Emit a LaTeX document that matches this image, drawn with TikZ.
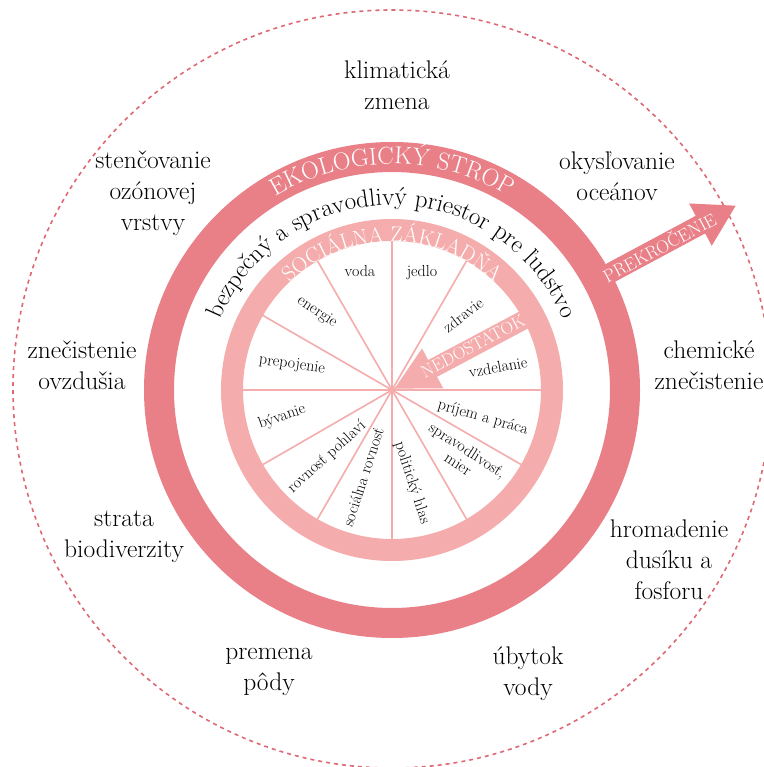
\documentclass[tikz,border=0pt]{standalone}
\usepackage{fontspec}
\usetikzlibrary{decorations.text}
\definecolor{eco}{RGB}{233,128,136}
\definecolor{soc}{RGB}{244,172,172}
\definecolor{dashred}{RGB}{222,104,116}
\tikzset{
  outerlbl/.style={align=center, font=\fontsize{25.5}{31}\selectfont, text=black, inner sep=0pt},
  pielbl/.style={align=center, font=\fontsize{16}{17}\selectfont, text=black, inner sep=0pt},
  spoke/.style={draw=soc, line width=1.6pt},
  arrowlbl/.style={text=white, inner sep=0pt},
}
\begin{document}
\begin{tikzpicture}[x=1pt,y=1pt]
\useasboundingbox (-392,-377) rectangle (371,390);
\fill[white] (-392,-377) rectangle (371,390);
\coordinate (c) at (0,0);
% outer dashed boundary
\draw[draw=dashred, line width=1.6pt, dash pattern=on 4pt off 4pt] (0,1) circle (379);
% ecological ceiling ring
\fill[eco, even odd rule] (c) circle (248) circle (218);
% overshoot arrow
\begin{scope}[rotate=28.2]
\fill[eco] (228,-10) -- (350,-10) -- (350,-24) -- (390,0) -- (350,24) -- (350,10) -- (228,10) -- cycle;
\end{scope}
\node[arrowlbl, rotate=28.2, font=\fontsize{18}{18}\selectfont] (prek) at (28.2:303) {PREKROČENIE};
% social foundation ring
\fill[soc, even odd rule] (c) circle (171) circle (149);
% spokes
\foreach \a in {0,30,...,330} \draw[spoke] (c) -- (\a:150);
% shortfall arrow
\begin{scope}[rotate=28]
\fill[soc] (3,0) -- (46,22.6) -- (46,9.5) -- (160,9.5) -- (160,-9.5) -- (46,-9.5) -- (46,-22.6) -- cycle;
\end{scope}
\node[arrowlbl, rotate=28, font=\fontsize{17.5}{17.5}\selectfont] (nedo) at (28.5:92) {NEDOSTATOK};
% ring texts
\path[decorate, decoration={text along path, text align=center, text color=white,
  text={|\fontsize{24.5}{24.5}\selectfont|EKOLOGICKÝ STROP}}]
  (160:226) arc[start angle=160, end angle=20, radius=226];
\path[decorate, decoration={text along path, text align=center, text color=white,
  text={|\fontsize{21.5}{21.5}\selectfont|SOCIÁLNA ZÁKLADŇA}}]
  (165:148.5) arc[start angle=165, end angle=15, radius=148.5];
\path[decorate, decoration={text along path, text align=center, text color=black,
  text={|\fontsize{25}{25}\selectfont|bezpečný a spravodlivý priestor pre ľudstvo}}]
  (172:185) arc[start angle=172, end angle=8, radius=185];
% social foundation labels
\node[pielbl] (voda) at (-32,119) {voda};
\node[pielbl] (jedlo) at (30,117) {jedlo};
\node[pielbl, rotate=37] (zdravie) at (71,75) {zdravie};
\node[pielbl, rotate=10] (vzdel) at (106,23) {vzdelanie};
\node[pielbl, rotate=-16] (prijem) at (91,-28) {príjem a práca};
\node[pielbl, rotate=-33] (sprav) at (71,-67) {spravodlivosť,\\mier};
\node[pielbl, rotate=-72] (polit) at (20,-93) {politický hlas};
\node[pielbl, rotate=72] (socrov) at (-29,-87) {sociálna rovnosť};
\node[pielbl, rotate=42] (rovpoh) at (-65,-67) {rovnosť pohlaví};
\node[pielbl, rotate=19] (byv) at (-110,-27) {bývanie};
\node[pielbl, rotate=-8] (prep) at (-100,25) {prepojenie};
\node[pielbl, rotate=-34] (energ) at (-75,78) {energie};
% planetary boundary labels
\node[outerlbl] (klim) at (5,305) {klimatická\\zmena};
\node[outerlbl] (ozon) at (-239,197) {stenčovanie\\ozónovej\\vrstvy};
\node[outerlbl] (okys) at (225,214) {okysľovanie\\oceánov};
\node[outerlbl] (ovzd) at (-310,25) {znečistenie\\ovzdušia};
\node[outerlbl] (chem) at (317,25) {chemické\\znečistenie};
\node[outerlbl] (biod) at (-268,-147) {strata\\biodiverzity};
\node[outerlbl] (dusik) at (277,-170) {hromadenie\\dusíku a\\fosforu};
\node[outerlbl] (poda) at (-123,-282) {premena\\pôdy};
\node[outerlbl] (voday) at (136,-284) {úbytok\\vody};
\end{tikzpicture}
\end{document}
